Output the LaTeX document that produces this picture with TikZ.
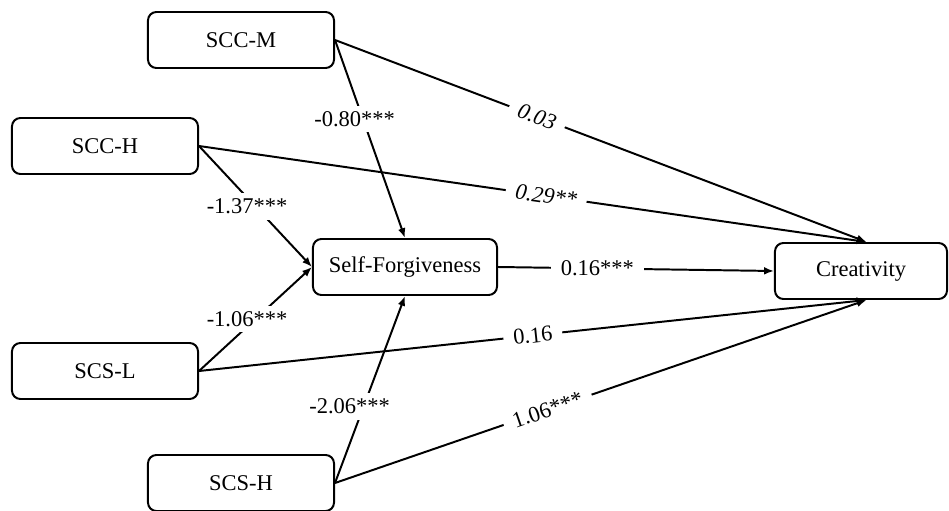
\documentclass[tikz,border=0pt]{standalone}
\usepackage{fontspec}
\setmainfont{Liberation Serif}
\usetikzlibrary{%
    arrows.meta,
    calc,
    positioning
}
\tikzset{headarrow/.style = {-{Latex[length=7pt,width=5.5pt]}, line width=1.4pt}}
\tikzset{varbox/.style = {draw, line width=1.4pt, rounded corners=6pt,
    minimum width=4.65cm, minimum height=1.4cm, font=\fontsize{16}{19}\selectfont}}
\tikzset{coef/.style = {fill=white, inner xsep=7pt, inner ysep=4pt,
    font=\fontsize{16}{19}\selectfont}}

\begin{document}
\begin{tikzpicture}[x=0.025cm, y=-0.025cm]
    \useasboundingbox (0,0) rectangle (949,511);

    \node[varbox] (scc-m) at (241,40)  {SCC-M};
    \node[varbox] (scc-h) at (105,146) {SCC-H};
    \node[varbox, minimum width=4.6cm] (sf) at (405,267) {Self-Forgiveness};
    \node[varbox, minimum width=4.3cm] (cre) at (861,271) {Creativity};
    \node[varbox] (scs-l) at (105,371) {SCS-L};
    \node[varbox] (scs-h) at (241,483) {SCS-H};

    \draw[headarrow] (scc-m.east) to node [coef, sloped, pos=.38] {\textit{0.03}} ([xshift=4pt]cre.north);
    \draw[headarrow] (scc-m.east) to node [coef, pos=.40, xshift=-6pt] {-0.80***} (sf.north);

    \draw[headarrow] (scc-h.east) to node [coef, sloped, pos=.52] {\textit{0.29**}} ([xshift=4pt]cre.north);
    \draw[headarrow] (scc-h.east) to node [coef, pos=.5, xshift=-6pt] {-1.37***} (sf.west);

    \draw[headarrow] (scs-l.east) to node [coef, pos=.5, xshift=-6pt] {-1.06***} (sf.west);
    \draw[headarrow] (scs-l.east) to node [coef, sloped, pos=.5] {0.16} ([xshift=4pt]cre.south);

    \draw[headarrow] (scs-h.east) to node [coef, pos=.41, xshift=-10pt] {-2.06***} (sf.south);
    \draw[headarrow] (scs-h.east) to node [coef, sloped, pos=.40] {1.06***} ([xshift=4pt]cre.south);

    \draw[headarrow] (sf.east) to node [coef, pos=.36] {0.16***} (cre.west);
\end{tikzpicture}
\end{document}
